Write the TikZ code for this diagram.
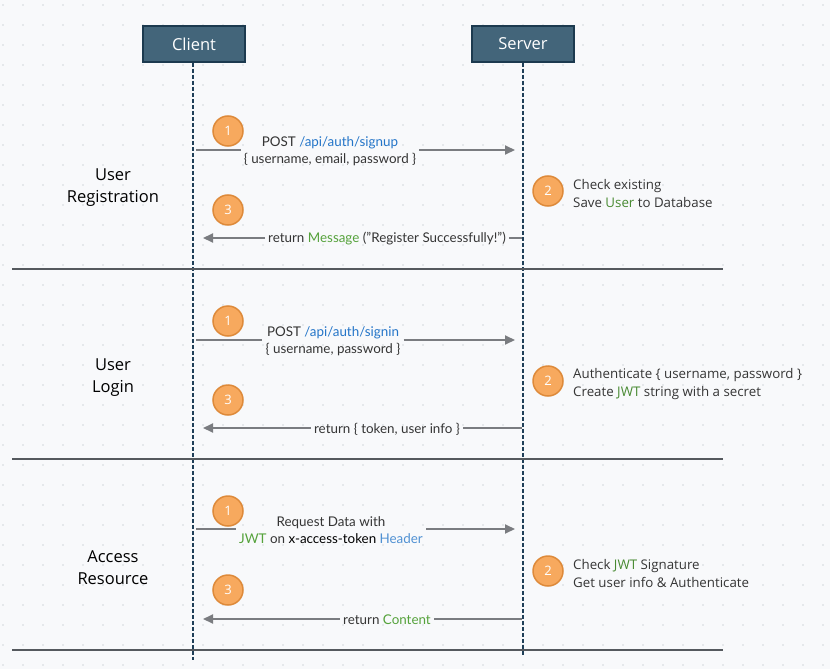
\documentclass[tikz,border=0pt]{standalone}
\usepackage{fontspec}
\setmainfont{Lato}
\newfontfamily\osans{Open Sans}
\usetikzlibrary{arrows.meta}
\definecolor{bg}{HTML}{F8F9FB}
\definecolor{griddot}{HTML}{D3D7DC}
\definecolor{actorfill}{HTML}{43657A}
\definecolor{actorborder}{HTML}{1C3A4F}
\definecolor{lifeblue}{HTML}{1F3F58}
\definecolor{sepgray}{HTML}{55595E}
\definecolor{arrowgray}{HTML}{7A7C80}
\definecolor{badgefill}{HTML}{F7A95E}
\definecolor{badgeborder}{HTML}{DE8A3A}
\definecolor{txt}{HTML}{353535}
\definecolor{apiblue}{HTML}{2475C8}
\definecolor{okgreen}{HTML}{55A23B}
\newcommand{\sq}{\symbol{34}}
\tikzset{
  actor/.style={draw=actorborder, line width=1.5pt, fill=actorfill, minimum width=102pt, minimum height=36pt, inner sep=0pt, text=white, font=\osans\fontsize{16.5}{18}\selectfont},
  lifeline/.style={draw=lifeblue, line width=1.3pt, dash pattern=on 4pt off 2pt},
  sepline/.style={draw=sepgray, line width=2pt},
  msgline/.style={draw=arrowgray, line width=2pt},
  msgarrow/.style={msgline, -{Triangle[length=10pt,width=9pt]}},
  badge/.style={circle, fill=badgefill, draw=badgeborder, line width=1.5pt, minimum size=30pt, inner sep=0pt, text=white, font=\osans\fontsize{13}{13}\selectfont},
  lbl/.style={align=center, font=\fontsize{13.4}{17.5}\selectfont, text=txt, inner sep=3pt},
  note/.style={align=left, anchor=west, font=\osans\fontsize{13.3}{18}\selectfont, text=txt, inner sep=0pt},
  sect/.style={align=center, font=\osans\fontsize{16.5}{22}\selectfont, text=black}
}
\begin{document}
\begin{tikzpicture}[x=1pt,y=-1pt]
\fill[bg] (0,0) rectangle (830,669);
\useasboundingbox (0,0) rectangle (830,669);
% dot grid
\foreach \i in {0,...,41}{
  \foreach \j in {0,...,33}{
    \fill[griddot] (3+20*\i,5+20*\j) circle (0.9pt);
  }
}
% actors and lifelines
\node[actor] (client) at (194,44) {Client};
\node[actor] (server) at (523,44) {Server};
\coordinate (clientend) at (193,660);
\coordinate (serverend) at (523,655);
\draw[lifeline] (client.south -| clientend) -- (clientend);
\draw[lifeline] (server.south -| serverend) -- (serverend);
% separators
\coordinate (s1l) at (12,269); \coordinate (s1r) at (723,269);
\coordinate (s2l) at (12,459); \coordinate (s2r) at (723,459);
\coordinate (s3l) at (12,650); \coordinate (s3r) at (723,650);
\draw[sepline] (s1l) -- (s1r);
\draw[sepline] (s2l) -- (s2r);
\draw[sepline] (s3l) -- (s3r);
% section labels
\node[sect] (sec1) at (113,188) {User\\Registration};
\node[sect] (sec2) at (113,378) {User\\Login};
\node[sect] (sec3) at (113,568) {Access\\Resource};

% ---- Section 1
\node[badge] (b11) at (228,131) {1};
\coordinate (m1s) at (196,150); \coordinate (m1e) at (515,150);
\node[lbl] (m1) at (330,151) {POST \textcolor{apiblue}{/api/auth/signup}\\\{ username, email, password \}};
\draw[msgline] (m1s) -- (m1s -| m1.west);
\draw[msgarrow] (m1s -| m1.east) -- (m1e);
\node[badge] (b12) at (548,191) {2};
\node[note] (n1) at (573,194) {Check existing\\Save \textcolor{okgreen!85!black}{User} to Database};
\node[badge] (b13) at (228,210) {3};
\coordinate (r1s) at (522,238); \coordinate (r1e) at (203,238);
\node[lbl] (r1) at (387,239) {return \textcolor{okgreen}{Message} (\sq Register Successfully!\sq)};
\draw[msgline] (r1s) -- (r1s -| r1.east);
\draw[msgarrow] (r1s -| r1.west) -- (r1e);

% ---- Section 2
\node[badge] (b21) at (228,321) {1};
\coordinate (m2s) at (196,340); \coordinate (m2e) at (515,340);
\node[lbl] (m2) at (333,341) {POST \textcolor{apiblue}{/api/auth/signin}\\\{ username, password \}};
\draw[msgline] (m2s) -- (m2s -| m2.west);
\draw[msgarrow] (m2s -| m2.east) -- (m2e);
\node[badge] (b22) at (548,381) {2};
\node[note] (n2) at (573,384) {Authenticate \{ username, password \}\\Create \textcolor{okgreen!85!black}{JWT} string with a secret};
\node[badge] (b23) at (228,400) {3};
\coordinate (r2s) at (522,428); \coordinate (r2e) at (203,428);
\node[lbl] (r2) at (387,429) {return \{ token, user info \}};
\draw[msgline] (r2s) -- (r2s -| r2.east);
\draw[msgarrow] (r2s -| r2.west) -- (r2e);

% ---- Section 3
\node[badge] (b31) at (228,511) {1};
\coordinate (m3s) at (196,529); \coordinate (m3e) at (515,529);
\node[lbl] (m3) at (331,530) {Request Data with\\\textcolor{okgreen}{JWT} on \textcolor{black}{x-access-token} \textcolor{apiblue!80!white}{Header}};
\draw[msgline] (m3s) -- (m3s -| m3.west);
\draw[msgarrow] (m3s -| m3.east) -- (m3e);
\node[badge] (b32) at (548,571) {2};
\node[note] (n3) at (573,574) {Check \textcolor{okgreen!85!black}{JWT} Signature\\Get user info \& Authenticate};
\node[badge] (b33) at (228,590) {3};
\coordinate (r3s) at (522,619); \coordinate (r3e) at (203,619);
\node[lbl] (r3) at (387,620) {return \textcolor{okgreen}{Content}};
\draw[msgline] (r3s) -- (r3s -| r3.east);
\draw[msgarrow] (r3s -| r3.west) -- (r3e);
\end{tikzpicture}
\end{document}
